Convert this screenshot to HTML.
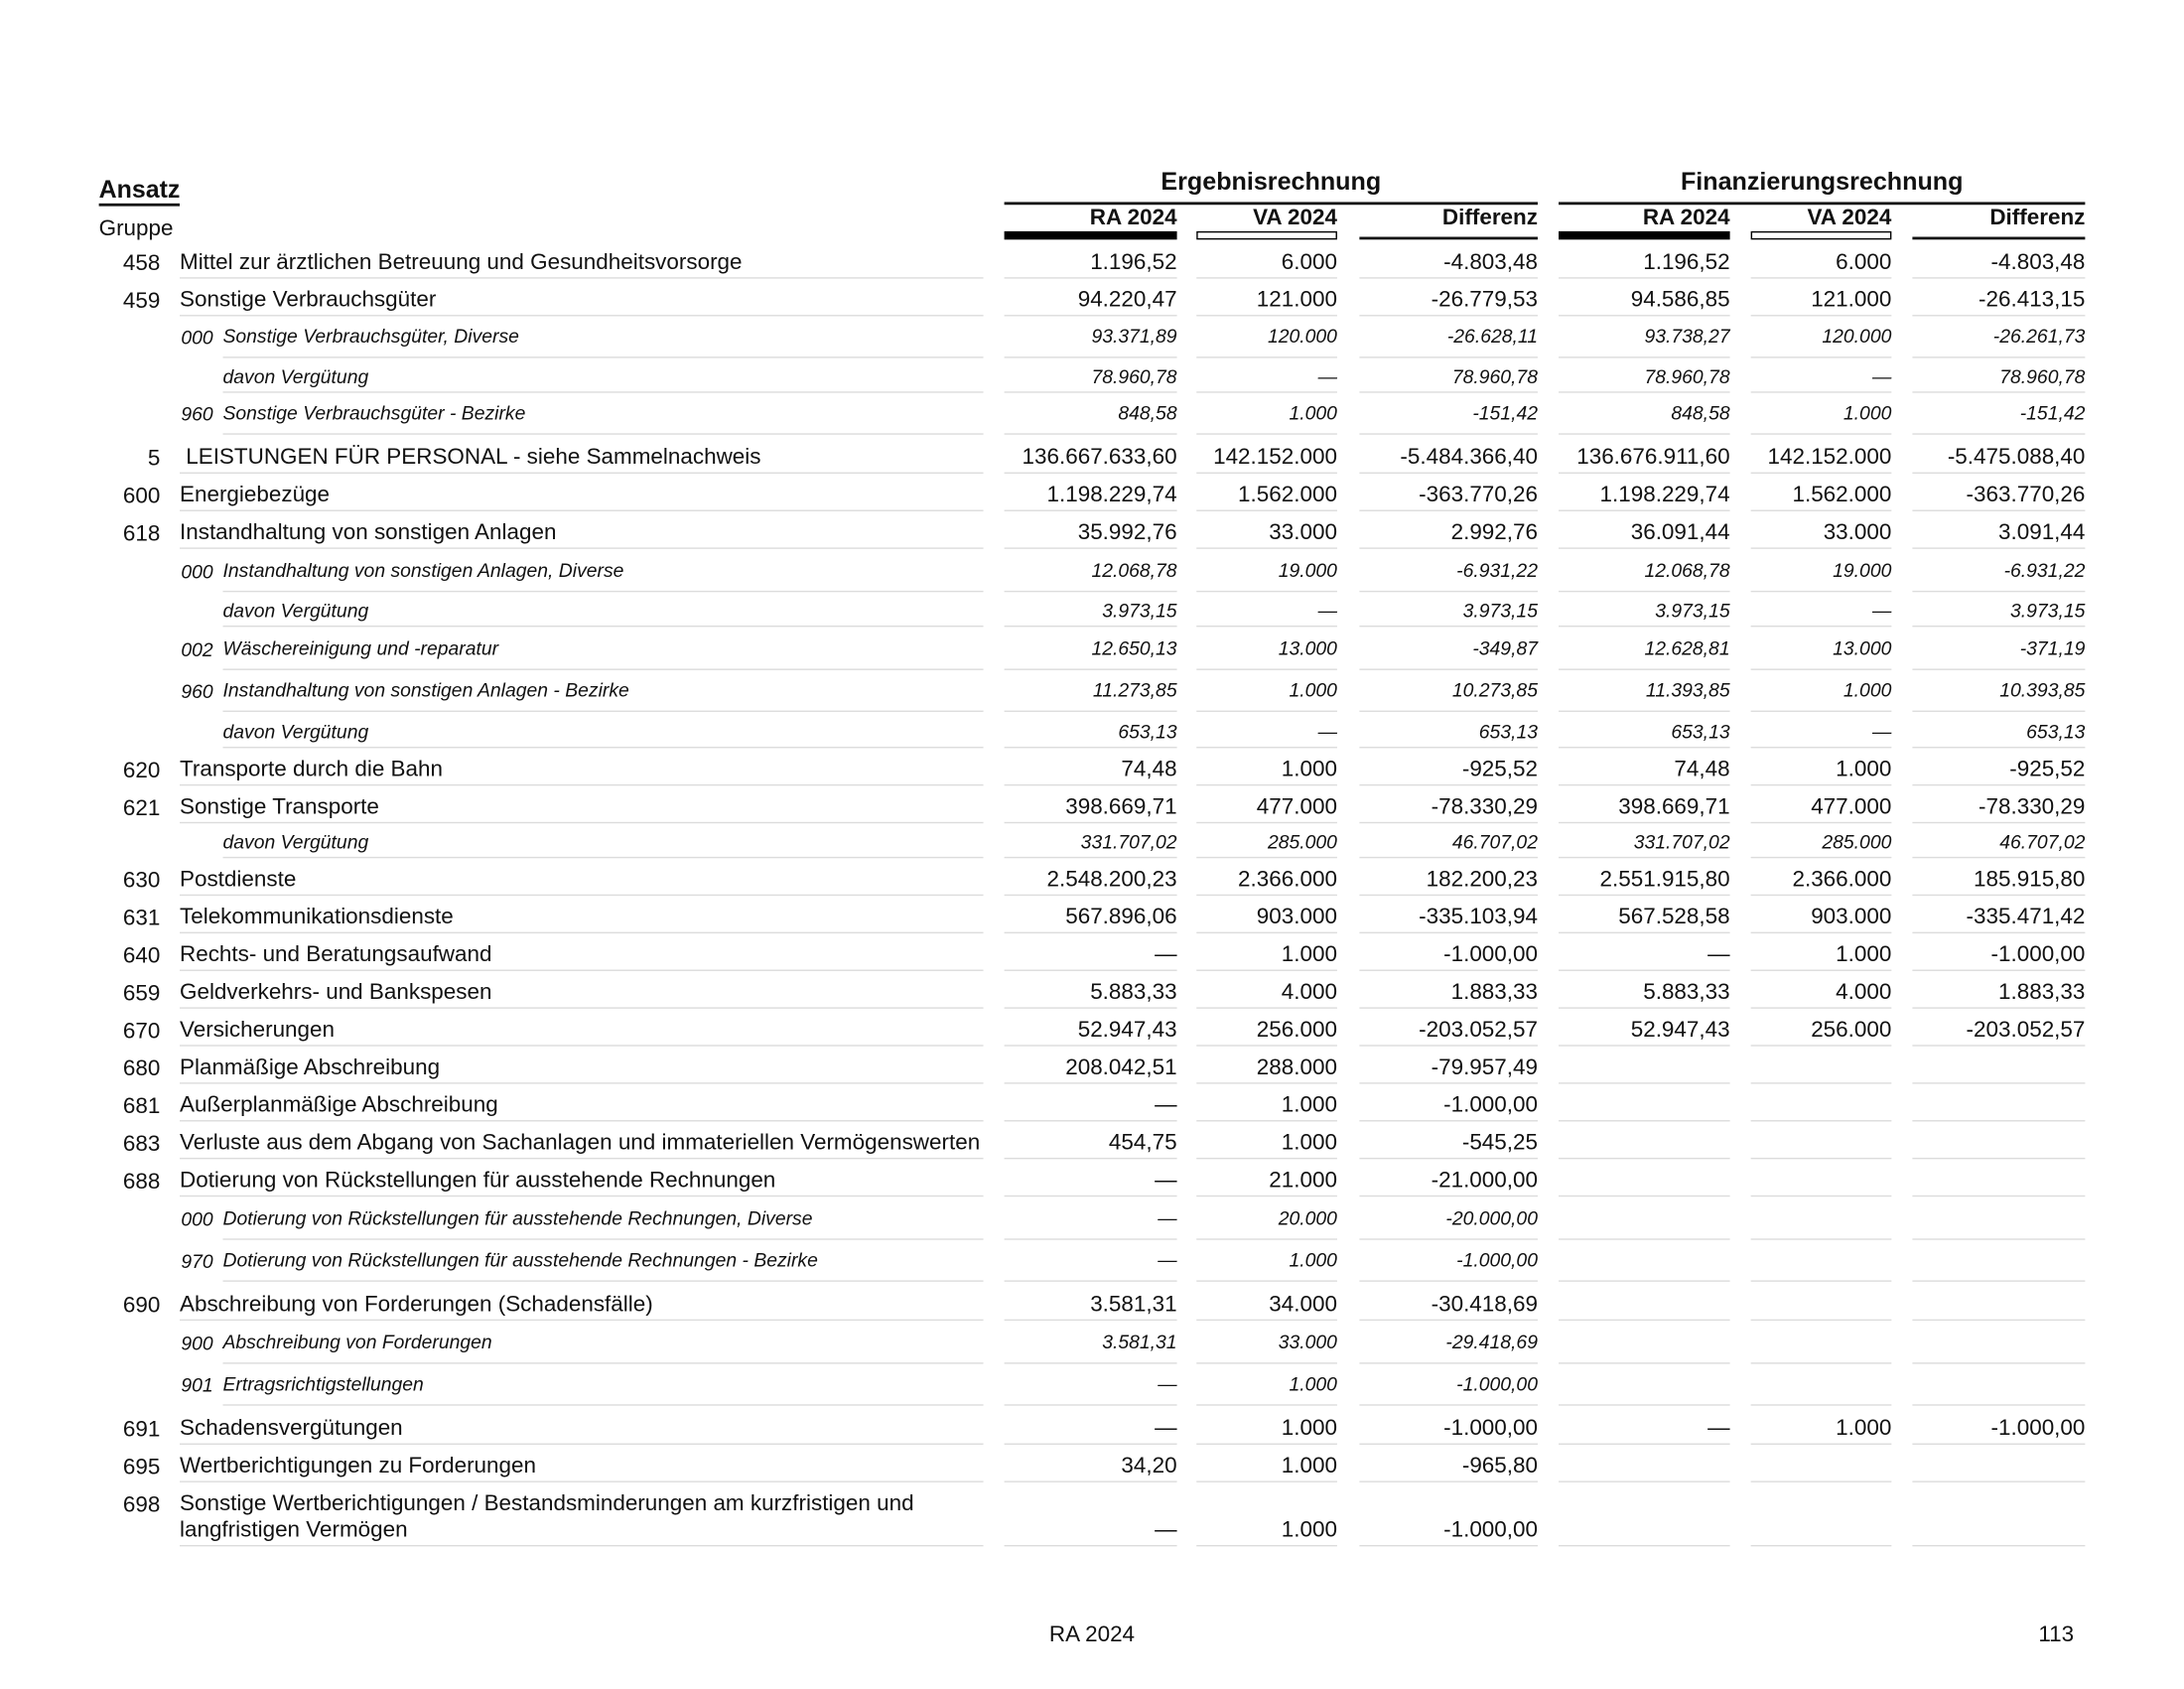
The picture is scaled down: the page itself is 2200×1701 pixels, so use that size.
<!DOCTYPE html>
<html><head><meta charset="utf-8"><style>
html,body{margin:0;padding:0;background:#fff}
body{width:2200px;height:1700px;overflow:hidden;position:relative}
#p{position:absolute;left:0;top:0;width:1568px;height:1212px;transform:scale(1.40306);transform-origin:0 0;font-family:"Liberation Sans",Arial,sans-serif;color:#111;font-size:16px}
.r{position:absolute;left:0;width:1568px;height:30px}
.c{position:absolute;bottom:0;border-bottom:1.5px solid #dcdcdc;text-align:right;white-space:nowrap;line-height:18px;padding-bottom:1px}
.a{left:721px;width:124px}.b{left:859px;width:101px}.d{left:976px;width:128px}
.e{left:1119px;width:123px}.f{left:1257px;width:101px}.g{left:1373px;width:124px}
.l{left:129px;width:577px;text-align:left}
.ls{left:160px;width:546px;text-align:left}
.k{position:absolute;bottom:1px;left:60px;width:55px;text-align:right;line-height:18px}
.s .c,.v .c{font-style:italic;font-size:13.8px;line-height:16px}
.s .c{padding-bottom:6px}
.v .c{padding-bottom:2px}
.ks{position:absolute;bottom:6px;left:130px;font-style:italic;font-size:13.8px;line-height:16px}
.h{position:absolute;font-weight:bold}
</style></head><body><div id="p">
<div class="h" style="left:71px;top:126px;font-size:17.8px;line-height:20px;border-bottom:2px solid #111;padding-bottom:0px">Ansatz</div>
<div style="position:absolute;left:71px;top:156px;line-height:18px">Gruppe</div>
<div class="h" style="left:721px;width:383px;top:120px;text-align:center;font-size:17.9px;line-height:20px">Ergebnisrechnung</div>
<div class="h" style="left:1119px;width:378px;top:120px;text-align:center;font-size:17.9px;line-height:20px">Finanzierungsrechnung</div>
<div style="position:absolute;left:721px;width:383px;top:145px;height:2px;background:#111"></div>
<div style="position:absolute;left:1119px;width:378px;top:145px;height:2px;background:#111"></div>
<div class="h" style="left:721px;width:124px;top:148px;text-align:right;line-height:18px">RA 2024</div>
<div class="h" style="left:859px;width:101px;top:148px;text-align:right;line-height:18px">VA 2024</div>
<div class="h" style="left:976px;width:128px;top:148px;text-align:right;line-height:18px">Differenz</div>
<div class="h" style="left:1119px;width:123px;top:148px;text-align:right;line-height:18px">RA 2024</div>
<div class="h" style="left:1257px;width:101px;top:148px;text-align:right;line-height:18px">VA 2024</div>
<div class="h" style="left:1373px;width:124px;top:148px;text-align:right;line-height:18px">Differenz</div>
<div style="position:absolute;left:721px;width:124px;top:166px;height:6px;background:#000"></div>
<div style="position:absolute;left:859px;width:99px;top:166px;height:4px;border:1px solid #000"></div>
<div style="position:absolute;left:976px;width:128px;top:170px;height:2px;background:#111"></div>
<div style="position:absolute;left:1119px;width:123px;top:166px;height:6px;background:#000"></div>
<div style="position:absolute;left:1257px;width:99px;top:166px;height:4px;border:1px solid #000"></div>
<div style="position:absolute;left:1373px;width:124px;top:170px;height:2px;background:#111"></div>

<div class="r" style="top:170px"><div class="k">458</div><div class="c l">Mittel zur ärztlichen Betreuung und Gesundheitsvorsorge</div><div class="c a">1.196,52</div><div class="c b">6.000</div><div class="c d">-4.803,48</div><div class="c e">1.196,52</div><div class="c f">6.000</div><div class="c g">-4.803,48</div></div>
<div class="r" style="top:197px"><div class="k">459</div><div class="c l">Sonstige Verbrauchsgüter</div><div class="c a">94.220,47</div><div class="c b">121.000</div><div class="c d">-26.779,53</div><div class="c e">94.586,85</div><div class="c f">121.000</div><div class="c g">-26.413,15</div></div>
<div class="r s" style="top:227px"><div class="ks">000</div><div class="c ls">Sonstige Verbrauchsgüter, Diverse</div><div class="c a">93.371,89</div><div class="c b">120.000</div><div class="c d">-26.628,11</div><div class="c e">93.738,27</div><div class="c f">120.000</div><div class="c g">-26.261,73</div></div>
<div class="r v" style="top:252px"><div class="c ls">davon Vergütung</div><div class="c a">78.960,78</div><div class="c b">—</div><div class="c d">78.960,78</div><div class="c e">78.960,78</div><div class="c f">—</div><div class="c g">78.960,78</div></div>
<div class="r s" style="top:282px"><div class="ks">960</div><div class="c ls">Sonstige Verbrauchsgüter - Bezirke</div><div class="c a">848,58</div><div class="c b">1.000</div><div class="c d">-151,42</div><div class="c e">848,58</div><div class="c f">1.000</div><div class="c g">-151,42</div></div>
<div class="r" style="top:310px"><div class="k">5</div><div class="c l">&nbsp;LEISTUNGEN FÜR PERSONAL - siehe Sammelnachweis</div><div class="c a">136.667.633,60</div><div class="c b">142.152.000</div><div class="c d">-5.484.366,40</div><div class="c e">136.676.911,60</div><div class="c f">142.152.000</div><div class="c g">-5.475.088,40</div></div>
<div class="r" style="top:337px"><div class="k">600</div><div class="c l">Energiebezüge</div><div class="c a">1.198.229,74</div><div class="c b">1.562.000</div><div class="c d">-363.770,26</div><div class="c e">1.198.229,74</div><div class="c f">1.562.000</div><div class="c g">-363.770,26</div></div>
<div class="r" style="top:364px"><div class="k">618</div><div class="c l">Instandhaltung von sonstigen Anlagen</div><div class="c a">35.992,76</div><div class="c b">33.000</div><div class="c d">2.992,76</div><div class="c e">36.091,44</div><div class="c f">33.000</div><div class="c g">3.091,44</div></div>
<div class="r s" style="top:395px"><div class="ks">000</div><div class="c ls">Instandhaltung von sonstigen Anlagen, Diverse</div><div class="c a">12.068,78</div><div class="c b">19.000</div><div class="c d">-6.931,22</div><div class="c e">12.068,78</div><div class="c f">19.000</div><div class="c g">-6.931,22</div></div>
<div class="r v" style="top:420px"><div class="c ls">davon Vergütung</div><div class="c a">3.973,15</div><div class="c b">—</div><div class="c d">3.973,15</div><div class="c e">3.973,15</div><div class="c f">—</div><div class="c g">3.973,15</div></div>
<div class="r s" style="top:451px"><div class="ks">002</div><div class="c ls">Wäschereinigung und -reparatur</div><div class="c a">12.650,13</div><div class="c b">13.000</div><div class="c d">-349,87</div><div class="c e">12.628,81</div><div class="c f">13.000</div><div class="c g">-371,19</div></div>
<div class="r s" style="top:481px"><div class="ks">960</div><div class="c ls">Instandhaltung von sonstigen Anlagen - Bezirke</div><div class="c a">11.273,85</div><div class="c b">1.000</div><div class="c d">10.273,85</div><div class="c e">11.393,85</div><div class="c f">1.000</div><div class="c g">10.393,85</div></div>
<div class="r v" style="top:507px"><div class="c ls">davon Vergütung</div><div class="c a">653,13</div><div class="c b">—</div><div class="c d">653,13</div><div class="c e">653,13</div><div class="c f">—</div><div class="c g">653,13</div></div>
<div class="r" style="top:534px"><div class="k">620</div><div class="c l">Transporte durch die Bahn</div><div class="c a">74,48</div><div class="c b">1.000</div><div class="c d">-925,52</div><div class="c e">74,48</div><div class="c f">1.000</div><div class="c g">-925,52</div></div>
<div class="r" style="top:561px"><div class="k">621</div><div class="c l">Sonstige Transporte</div><div class="c a">398.669,71</div><div class="c b">477.000</div><div class="c d">-78.330,29</div><div class="c e">398.669,71</div><div class="c f">477.000</div><div class="c g">-78.330,29</div></div>
<div class="r v" style="top:586px"><div class="c ls">davon Vergütung</div><div class="c a">331.707,02</div><div class="c b">285.000</div><div class="c d">46.707,02</div><div class="c e">331.707,02</div><div class="c f">285.000</div><div class="c g">46.707,02</div></div>
<div class="r" style="top:613px"><div class="k">630</div><div class="c l">Postdienste</div><div class="c a">2.548.200,23</div><div class="c b">2.366.000</div><div class="c d">182.200,23</div><div class="c e">2.551.915,80</div><div class="c f">2.366.000</div><div class="c g">185.915,80</div></div>
<div class="r" style="top:640px"><div class="k">631</div><div class="c l">Telekommunikationsdienste</div><div class="c a">567.896,06</div><div class="c b">903.000</div><div class="c d">-335.103,94</div><div class="c e">567.528,58</div><div class="c f">903.000</div><div class="c g">-335.471,42</div></div>
<div class="r" style="top:667px"><div class="k">640</div><div class="c l">Rechts- und Beratungsaufwand</div><div class="c a">—</div><div class="c b">1.000</div><div class="c d">-1.000,00</div><div class="c e">—</div><div class="c f">1.000</div><div class="c g">-1.000,00</div></div>
<div class="r" style="top:694px"><div class="k">659</div><div class="c l">Geldverkehrs- und Bankspesen</div><div class="c a">5.883,33</div><div class="c b">4.000</div><div class="c d">1.883,33</div><div class="c e">5.883,33</div><div class="c f">4.000</div><div class="c g">1.883,33</div></div>
<div class="r" style="top:721px"><div class="k">670</div><div class="c l">Versicherungen</div><div class="c a">52.947,43</div><div class="c b">256.000</div><div class="c d">-203.052,57</div><div class="c e">52.947,43</div><div class="c f">256.000</div><div class="c g">-203.052,57</div></div>
<div class="r" style="top:748px"><div class="k">680</div><div class="c l">Planmäßige Abschreibung</div><div class="c a">208.042,51</div><div class="c b">288.000</div><div class="c d">-79.957,49</div><div class="c e"></div><div class="c f"></div><div class="c g"></div></div>
<div class="r" style="top:775px"><div class="k">681</div><div class="c l">Außerplanmäßige Abschreibung</div><div class="c a">—</div><div class="c b">1.000</div><div class="c d">-1.000,00</div><div class="c e"></div><div class="c f"></div><div class="c g"></div></div>
<div class="r" style="top:802px"><div class="k">683</div><div class="c l">Verluste aus dem Abgang von Sachanlagen und immateriellen Vermögenswerten</div><div class="c a">454,75</div><div class="c b">1.000</div><div class="c d">-545,25</div><div class="c e"></div><div class="c f"></div><div class="c g"></div></div>
<div class="r" style="top:829px"><div class="k">688</div><div class="c l">Dotierung von Rückstellungen für ausstehende Rechnungen</div><div class="c a">—</div><div class="c b">21.000</div><div class="c d">-21.000,00</div><div class="c e"></div><div class="c f"></div><div class="c g"></div></div>
<div class="r s" style="top:860px"><div class="ks">000</div><div class="c ls">Dotierung von Rückstellungen für ausstehende Rechnungen, Diverse</div><div class="c a">—</div><div class="c b">20.000</div><div class="c d">-20.000,00</div><div class="c e"></div><div class="c f"></div><div class="c g"></div></div>
<div class="r s" style="top:890px"><div class="ks">970</div><div class="c ls">Dotierung von Rückstellungen für ausstehende Rechnungen - Bezirke</div><div class="c a">—</div><div class="c b">1.000</div><div class="c d">-1.000,00</div><div class="c e"></div><div class="c f"></div><div class="c g"></div></div>
<div class="r" style="top:918px"><div class="k">690</div><div class="c l">Abschreibung von Forderungen (Schadensfälle)</div><div class="c a">3.581,31</div><div class="c b">34.000</div><div class="c d">-30.418,69</div><div class="c e"></div><div class="c f"></div><div class="c g"></div></div>
<div class="r s" style="top:949px"><div class="ks">900</div><div class="c ls">Abschreibung von Forderungen</div><div class="c a">3.581,31</div><div class="c b">33.000</div><div class="c d">-29.418,69</div><div class="c e"></div><div class="c f"></div><div class="c g"></div></div>
<div class="r s" style="top:979px"><div class="ks">901</div><div class="c ls">Ertragsrichtigstellungen</div><div class="c a">—</div><div class="c b">1.000</div><div class="c d">-1.000,00</div><div class="c e"></div><div class="c f"></div><div class="c g"></div></div>
<div class="r" style="top:1007px"><div class="k">691</div><div class="c l">Schadensvergütungen</div><div class="c a">—</div><div class="c b">1.000</div><div class="c d">-1.000,00</div><div class="c e">—</div><div class="c f">1.000</div><div class="c g">-1.000,00</div></div>
<div class="r" style="top:1034px"><div class="k">695</div><div class="c l">Wertberichtigungen zu Forderungen</div><div class="c a">34,20</div><div class="c b">1.000</div><div class="c d">-965,80</div><div class="c e"></div><div class="c f"></div><div class="c g"></div></div>
<div class="r" style="top:1062px;height:48px"><div class="k" style="top:10px;bottom:auto">698</div><div class="c l" style="white-space:normal;line-height:18.5px">Sonstige Wertberichtigungen / Bestandsminderungen am kurzfristigen und<br>langfristigen Vermögen</div><div class="c a">—</div><div class="c b">1.000</div><div class="c d">-1.000,00</div><div class="c e"></div><div class="c f"></div><div class="c g"></div></div>

<div style="position:absolute;left:734px;width:100px;top:1165px;text-align:center;line-height:18px">RA 2024</div>
<div style="position:absolute;left:1440px;width:49px;top:1165px;text-align:right;line-height:18px">113</div>
</div></body></html>
